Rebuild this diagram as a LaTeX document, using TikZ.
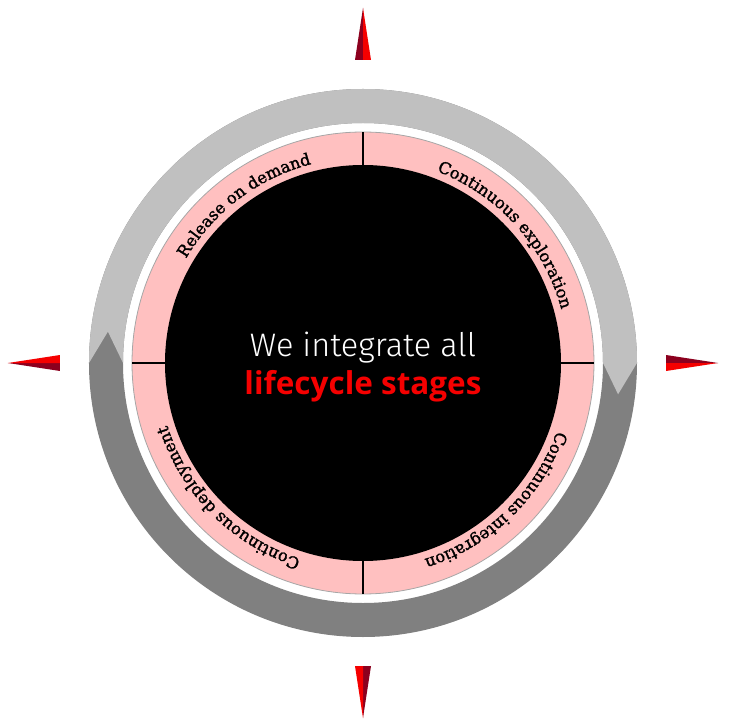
\documentclass[tikz,border=0pt]{standalone}
\usepackage{fontspec}
\usepackage{graphicx}
\usetikzlibrary{decorations.text}
\newfontfamily\arcfont{DejaVu Serif}[FakeBold=1.6]
\newfontfamily\lightfont{Fira Sans Light}
\newfontfamily\heavyfont{Open Sans}
\definecolor{lgray}{RGB}{192,192,192}
\definecolor{dgray}{RGB}{128,128,128}
\definecolor{pinkband}{RGB}{255,192,192}
\definecolor{bred}{RGB}{245,0,0}
\definecolor{dred}{RGB}{140,0,30}
\tikzset{
  divider/.style={line width=1.5pt, black},
  arctext/.style={decorate, decoration={text along path, text align=center, text={|\arcfont\fontsize{16.3}{16.3}\selectfont|#1}}},
  centertext/.style={anchor=base, inner sep=0pt}
}
\begin{document}
\begin{tikzpicture}[x=1pt,y=1pt]
\useasboundingbox (-363,-365) rectangle (365,363);
% compass pointers
\foreach \a in {0,-90,-180,-270}{
  \begin{scope}[rotate=\a]
    \fill[dred] (0,355) -- (-8,303) -- (0,303) -- cycle;
    \fill[bred] (0,355) -- (0,303) -- (8,303) -- cycle;
  \end{scope}
}
% gray ring
\fill[dgray, even odd rule] (0,0) circle (274) (0,0) circle (240);
\fill[lgray] (180:274) arc[start angle=180, end angle=0, radius=274] -- (-7:257) -- (0:240)
  arc[start angle=0, end angle=180, radius=240] -- (173:257) -- cycle;
% pink band
\fill[pinkband, draw=black!35, line width=0.8pt] (0,0) circle (231);
\fill[black] (0,0) circle (198);
\foreach \a in {0,90,180,270}{
  \draw[divider] (\a:197) -- (\a:231);
}
% arc texts
\path[arctext={Release on demand}] (197:205.5) arc[start angle=197, end angle=57, radius=205.5];
\path[arctext={Continuous exploration}] (112:205.5) arc[start angle=112, end angle=-28, radius=205.5];
\path[arctext={Continuous integration}] (24:205.5) arc[start angle=24, end angle=-116, radius=205.5];
\path[arctext={Continuous deployment}] (-65:205.5) arc[start angle=-65, end angle=-205, radius=205.5];
% centre text
\node[centertext, text=white] (t1) at (0,6) {\resizebox{226pt}{!}{\lightfont We integrate all}};
\node[centertext, text=bred] (t2) at (0,-31) {\resizebox{237pt}{!}{\heavyfont\bfseries lifecycle stages}};
\end{tikzpicture}
\end{document}
